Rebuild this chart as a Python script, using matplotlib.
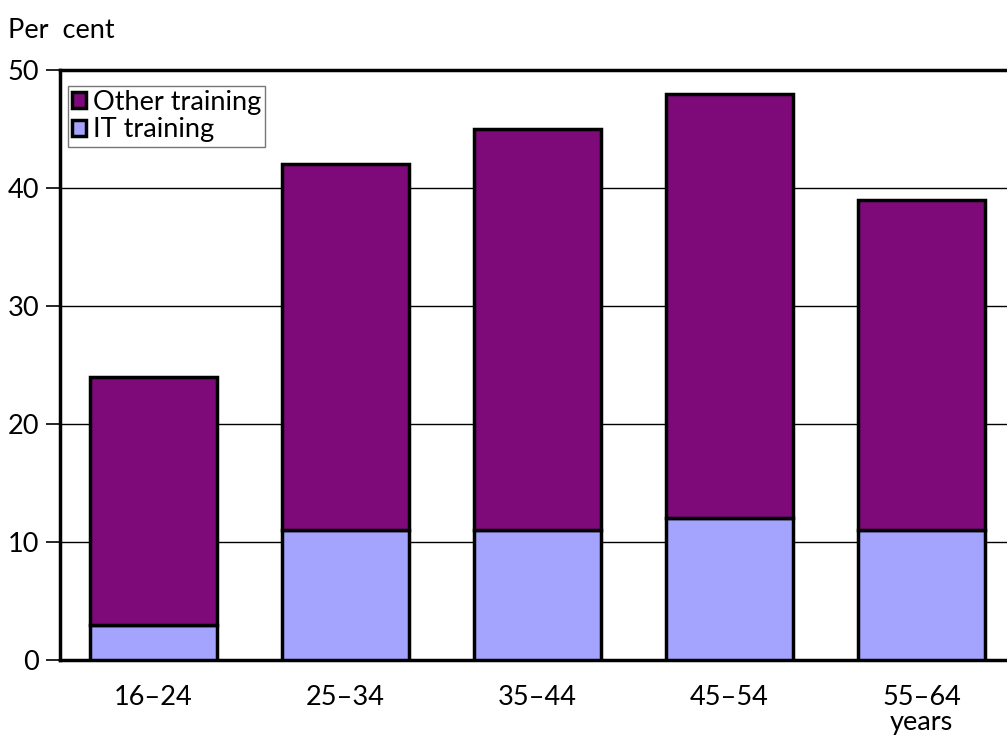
import matplotlib
matplotlib.use('Agg')
import matplotlib.pyplot as plt
import numpy as np

## 数据
age_groups = ['16–24', '25–34', '35–44', '45–54', '55–64']
it_training = [3, 11, 11, 12, 11]
total_training = [24, 42, 45, 48, 39]
other_training = [t - i for t, i in zip(total_training, it_training)]

plt.rcParams['font.family'] = ['Lato', 'DejaVu Sans']

fig = plt.figure(figsize=(10.07, 7.37), dpi=100)
ax = fig.add_axes([0.0596, 0.1045, 0.9404, 0.8005])

x = np.arange(len(age_groups))
ax.bar(x, it_training, width=0.66, color='#a4a4ff', edgecolor='black',
       linewidth=2.5, label='IT training', zorder=3)
ax.bar(x, other_training, bottom=it_training, width=0.66, color='#7d0a78',
       edgecolor='black', linewidth=2.5, label='Other training', zorder=3)

ax.set_ylim(0, 50)
ax.set_xlim(-0.487, 4.445)
ax.set_yticks(range(0, 51, 10))
ax.yaxis.grid(True, color='black', linewidth=1)
ax.set_axisbelow(True)

for s in ['left', 'bottom', 'top']:
    ax.spines[s].set_linewidth(2.5)
ax.spines['right'].set_visible(False)

fs = 19.5
ax.tick_params(axis='y', length=10, width=1.2, labelsize=fs, pad=5)
ax.tick_params(axis='x', length=0, labelsize=fs, pad=18)
ax.set_xticks(x)
ax.set_xticklabels(age_groups)

fig.text(0.008, 0.958, 'Per  cent', fontsize=fs, va='center', ha='left')
# 年龄单位写在最后一组下面
ax.text(4, -0.119, 'years', transform=ax.get_xaxis_transform(),
        fontsize=fs, ha='center', va='baseline')

handles, labels = ax.get_legend_handles_labels()
leg = ax.legend(handles[::-1], labels[::-1], loc='upper left',
                bbox_to_anchor=(0.006, 0.978), fontsize=fs, frameon=True,
                fancybox=False, edgecolor='#555555', handlelength=0.5,
                handleheight=0.5, handletextpad=0.25, borderpad=0.15,
                labelspacing=0.1, borderaxespad=0.1)
leg.get_frame().set_linewidth(1)

fig.savefig('out.png', dpi=100)
